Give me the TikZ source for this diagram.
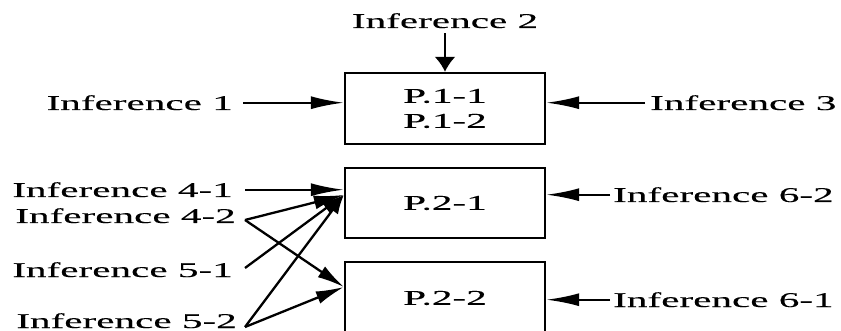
\documentclass[tikz,border=0pt]{standalone}
\usepackage{fontspec}
\setmainfont[FakeStretch=1.96, FakeBold=0.2]{Liberation Serif}
\usetikzlibrary{arrows.meta}
\tikzset{
  txt/.style={inner sep=0pt, font=\fontsize{21}{25}\selectfont},
  pbox/.style={draw, line width=2.3pt, minimum width=200pt, inner sep=0pt, align=center, font=\fontsize{21}{25}\selectfont},
  conn/.style={line width=2.3pt},
  harr/.style={conn, -{Latex[length=33pt,width=13pt]}},
  varr/.style={conn, -{Latex[length=15pt,width=21pt]}},
}
\begin{document}
\begin{tikzpicture}[x=1pt, y=-1pt]
\useasboundingbox (0,0) rectangle (841,331);
\clip (0,0) rectangle (841,331);
% boxes
\node[pbox, minimum height=71pt] (box1) at (445,108.5) {P.1-1\\P.1-2};
\node[pbox, minimum height=70pt] (box2) at (445,203) {P.2-1};
\node[pbox, minimum height=72pt] (box3) at (445,298) {P.2-2};
% labels
\node[txt, anchor=base] (i2) at (445,28) {Inference 2};
\node[txt, anchor=base east] (i1) at (233,110) {Inference 1};
\node[txt, anchor=base west] (i3) at (650,110) {Inference 3};
\node[txt, anchor=base east] (i41) at (233,197) {Inference 4-1};
\node[txt, anchor=base east] (i42) at (236,223) {Inference 4-2};
\node[txt, anchor=base east] (i51) at (233,277) {Inference 5-1};
\node[txt, anchor=base east] (i52) at (237,328) {Inference 5-2};
\node[txt, anchor=base west] (i62) at (613,202) {Inference 6-2};
\node[txt, anchor=base west] (i61) at (613,307) {Inference 6-1};
% connector points
\coordinate (c2) at ([shift={(0,-8)}]box2.west);
\coordinate (c3) at ([shift={(0,-11)}]box3.west);
\coordinate (a42) at ([shift={(9,-3)}]i42.base east);
\coordinate (a51) at ([shift={(12,-9)}]i51.base east);
\coordinate (a52) at ([shift={(8,-1)}]i52.base east);
% top row
\draw[varr] ([shift={(0,5)}]i2.south) -- (box1.north);
\draw[harr] ([xshift=10pt]i1.east) -- (i1.east -| box1.west);
\draw[harr] ([xshift=-5pt]i3.west) -- (i3.west -| box1.east);
% right side
\draw[harr] ([xshift=-3pt]i62.west) -- (i62.west -| box2.east);
\draw[harr] ([xshift=-3pt]i61.west) -- (i61.west -| box3.east);
% left side
\draw[harr] ([xshift=12pt]i41.east) -- (i41.east -| c2);
\draw[conn, -{Latex[length=30pt,width=14pt]}] (a42) -- (c2);
\draw[conn, -{Latex[length=27pt,width=13pt]}] (a42) -- (c3);
\draw[conn, -{Latex[length=22pt,width=14pt]}] (a51) -- (c2);
\draw[conn, -{Latex[length=19pt,width=14pt]}] (a52) -- (c2);
\draw[conn, -{Latex[length=28pt,width=13pt]}] (a52) -- (c3);
\end{tikzpicture}
\end{document}
